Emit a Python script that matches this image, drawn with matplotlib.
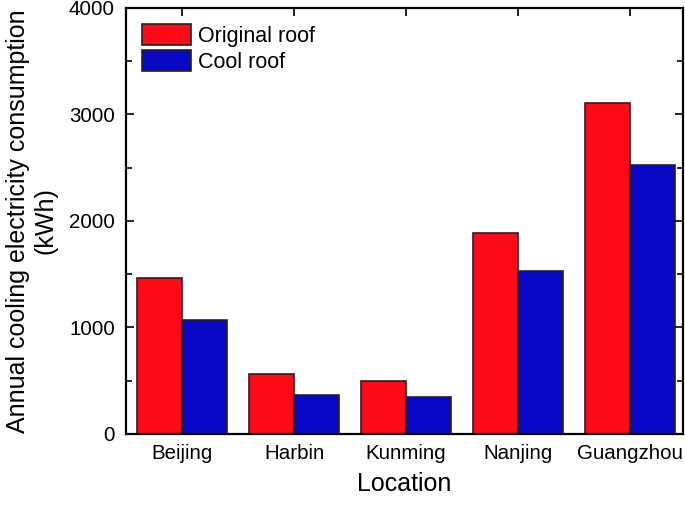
import numpy as np
import matplotlib.pyplot as plt
from matplotlib.ticker import MultipleLocator

plt.rcParams['font.family'] = ['Liberation Sans', 'DejaVu Sans']

locations = ['Beijing', 'Harbin', 'Kunming', 'Nanjing', 'Guangzhou']
original_roof = [1462, 566, 500, 1890, 3111]
cool_roof = [1070, 369, 347, 1533, 2526]

red = '#FF0A16'
blue = '#0808C6'

fig = plt.figure(figsize=(6.85, 5.05), dpi=100)
ax = fig.add_axes([0.184, 0.1406, 0.813, 0.844])

x = np.arange(len(locations))
w = 0.4
ax.bar(x - w / 2, original_roof, w, color=red, edgecolor='#222222', lw=1.2, label='Original roof')
ax.bar(x + w / 2, cool_roof, w, color=blue, edgecolor='#222222', lw=1.2, label='Cool roof')

ax.set_xlim(-0.5, 4.47)
ax.set_ylim(0, 4000)
ax.set_xticks(x)
ax.set_xticklabels(locations)
ax.yaxis.set_major_locator(MultipleLocator(1000))
ax.yaxis.set_minor_locator(MultipleLocator(500))
ax.tick_params(axis='both', which='both', direction='in', top=True, right=True, labelsize=14.8, width=1.2)
ax.tick_params(which='major', length=6)
ax.tick_params(which='minor', length=4)
ax.tick_params(axis='x', pad=7)
ax.tick_params(axis='y', pad=8)
for s in ax.spines.values():
    s.set_linewidth(1.6)

ax.set_xlabel('Location', fontsize=18, labelpad=7)
ax.set_ylabel('Annual cooling electricity consumption\n(kWh)', fontsize=18, labelpad=8)

ax.legend(loc='upper left', frameon=False, fontsize=15.5, handlelength=2.25, handleheight=1.12,
          borderaxespad=0.45, borderpad=0.3, handletextpad=0.35, labelspacing=0.17)

plt.savefig('out.png', dpi=100)
